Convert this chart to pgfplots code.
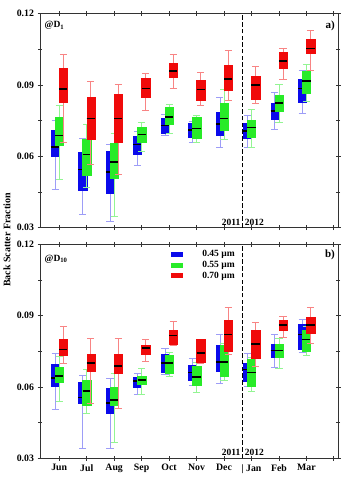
\documentclass[border=0pt]{standalone}
\usepackage{fontspec}
\setmainfont{Liberation Serif}
\usepackage{pgfplots}
\pgfplotsset{compat=1.18}
\usepgfplotslibrary{statistics}
\definecolor{cB}{RGB}{10,10,235}
\definecolor{cG}{RGB}{40,235,40}
\definecolor{cR}{RGB}{240,10,10}
\colorlet{cBL}{cB!40}
\colorlet{cGL}{cG!50}
\colorlet{cRL}{cR!50}
% #1 colour, #2 position, #3 lower whisker, #4 lower quartile, #5 median, #6 upper quartile, #7 upper whisker
\newcommand{\bp}[7]{\addplot[forget plot, draw=#1, fill=#1, line width=0.3pt,
  boxplot prepared={draw position=#2, lower whisker=#3, lower quartile=#4, median=#5, upper quartile=#6, upper whisker=#7, box extend=0.3, whisker extend=0.26},
  boxplot/every whisker/.style={draw=#1L, fill=none, line width=0.7pt},
  boxplot/every median/.style={draw=black, line width=1.6pt}] coordinates {};}
\pgfplotsset{myax/.style={scale only axis, width=298pt, height=214pt,
  boxplot/draw direction=y,
  xmin=0.3, xmax=11.15, ymin=0.03, ymax=0.12,
  xtick={1,...,11}, ytick={0.03,0.06,0.09,0.12}, minor ytick={0.045,0.075,0.105},
  tick align=center, major tick length=5pt, minor tick length=4pt,
  axis line style={line width=0.9pt, black!80},
  every tick/.style={black!80, line width=0.8pt},
  tick label style={font=\fontsize{9.8}{11}\selectfont\bfseries},
  yticklabel style={/pgf/number format/.cd, fixed, fixed zerofill, precision=2, assume math mode=true},
  scaled y ticks=false, clip=false}}
\newcommand{\lab}{\fontsize{9.5}{11}\selectfont\bfseries}
\begin{document}
\begin{tikzpicture}
\useasboundingbox (0,0) rectangle (347pt,480pt);
% ---------------- panel a ----------------
\begin{axis}[myax, at={(40pt,252.3pt)}, anchor=south west, xticklabels={}]
\bp{cB}{0.85}{0.0462}{0.0601}{0.064}{0.071}{0.0752}
\bp{cB}{1.85}{0.0357}{0.0458}{0.0545}{0.0619}{0.0675}
\bp{cB}{2.85}{0.0325}{0.0447}{0.0535}{0.0622}{0.0651}
\bp{cB}{3.85}{0.0564}{0.0611}{0.065}{0.0686}{0.0706}
\bp{cB}{4.85}{0.0688}{0.0699}{0.073}{0.0762}{0.0776}
\bp{cB}{5.85}{0.0661}{0.0679}{0.071}{0.0741}{0.0749}
\bp{cB}{6.85}{0.064}{0.0689}{0.0735}{0.0787}{0.0847}
\bp{cB}{7.85}{0.0636}{0.0675}{0.0707}{0.0741}{0.0773}
\bp{cB}{8.85}{0.0714}{0.0758}{0.0791}{0.0822}{0.0868}
\bp{cB}{9.85}{0.078}{0.0829}{0.0885}{0.0925}{0.0962}
\bp{cG}{1}{0.0503}{0.0647}{0.0688}{0.0766}{0.0814}
\bp{cG}{2}{0.0469}{0.0521}{0.0608}{0.0672}{0.0734}
\bp{cG}{3}{0.0346}{0.0507}{0.0577}{0.0657}{0.0696}
\bp{cG}{4}{0.0619}{0.0658}{0.0692}{0.0723}{0.0744}
\bp{cG}{5}{0.0696}{0.0734}{0.0766}{0.0808}{0.0818}
\bp{cG}{6}{0.0661}{0.0675}{0.0717}{0.0766}{0.0773}
\bp{cG}{7}{0.0671}{0.071}{0.0759}{0.0825}{0.0881}
\bp{cG}{8}{0.064}{0.0682}{0.0721}{0.0752}{0.0798}
\bp{cG}{9}{0.0742}{0.079}{0.0825}{0.0858}{0.0903}
\bp{cG}{10}{0.0833}{0.0864}{0.0917}{0.0958}{0.0987}
\bp{cR}{1.15}{0.0658}{0.0829}{0.0884}{0.0973}{0.1028}
\bp{cR}{2.15}{0.0566}{0.0672}{0.0759}{0.085}{0.0916}
\bp{cR}{3.15}{0.0525}{0.0661}{0.0759}{0.086}{0.0902}
\bp{cR}{4.15}{0.0793}{0.0849}{0.0886}{0.0928}{0.0948}
\bp{cR}{5.15}{0.0888}{0.0934}{0.0958}{0.0993}{0.1028}
\bp{cR}{6.15}{0.0814}{0.0836}{0.0881}{0.092}{0.0952}
\bp{cR}{7.15}{0.0836}{0.0878}{0.0926}{0.0982}{0.1046}
\bp{cR}{8.15}{0.0825}{0.0839}{0.0899}{0.0938}{0.0977}
\bp{cR}{9.15}{0.0924}{0.097}{0.100}{0.104}{0.1056}
\bp{cR}{10.15}{0.0962}{0.1032}{0.1053}{0.1091}{0.113}
\draw[line width=1.4pt, dash pattern=on 4.5pt off 2.2pt] (axis cs:7.67,0.03) -- (axis cs:7.67,0.12);
\node[anchor=west, font=\lab, inner sep=0pt] at (rel axis cs:0.015,0.945) {@D\textsubscript{1}};
\node[anchor=east, font=\fontsize{11}{12}\selectfont\bfseries, inner sep=0pt] at (rel axis cs:0.99,0.945) {a)};
\node[anchor=south east, font=\lab, inner xsep=0pt, inner ysep=1pt] at (axis cs:7.6,0.0305) {2011};
\node[anchor=south west, font=\lab, inner xsep=0pt, inner ysep=1pt] at (axis cs:7.75,0.0305) {2012};
\end{axis}
% ---------------- panel b ----------------
\begin{axis}[myax, at={(40pt,21.7pt)}, anchor=south west,
  xticklabels={Jun,Jul,Aug,Sep,Oct,Nov,Dec,| Jan,Feb,Mar,},
  legend image code/.code={\fill (0pt,-2.6pt) rectangle (12pt,2.6pt);},
  legend style={at={(axis description cs:0.43,0.99)}, anchor=north west, draw=none, fill=none,
    font=\lab, column sep=17pt, row sep=-1.2pt}]
\addlegendimage{fill=cB, draw=none}\addlegendentry{0.45 µm}
\addlegendimage{fill=cG, draw=none}\addlegendentry{0.55 µm}
\addlegendimage{fill=cR, draw=none}\addlegendentry{0.70 µm}
\bp{cB}{0.85}{0.0507}{0.0605}{0.0637}{0.0694}{0.0743}
\bp{cB}{1.85}{0.0341}{0.0532}{0.0556}{0.0619}{0.065}
\bp{cB}{2.85}{0.0341}{0.049}{0.0532}{0.0593}{0.0635}
\bp{cB}{3.85}{0.0569}{0.0601}{0.0626}{0.0642}{0.0659}
\bp{cB}{4.85}{0.0652}{0.0661}{0.0702}{0.074}{0.0761}
\bp{cB}{5.85}{0.0608}{0.063}{0.0661}{0.069}{0.0719}
\bp{cB}{6.85}{0.0615}{0.0668}{0.0705}{0.0775}{0.082}
\bp{cB}{7.85}{0.0602}{0.0626}{0.0673}{0.0701}{0.0743}
\bp{cB}{8.85}{0.0683}{0.0726}{0.0753}{0.0782}{0.082}
\bp{cB}{9.85}{0.0747}{0.0761}{0.082}{0.0865}{0.0884}
\bp{cG}{1}{0.0539}{0.0619}{0.0647}{0.0683}{0.0729}
\bp{cG}{2}{0.049}{0.0522}{0.0584}{0.063}{0.0673}
\bp{cG}{3}{0.0367}{0.0522}{0.0546}{0.0598}{0.0659}
\bp{cG}{4}{0.0571}{0.0612}{0.063}{0.0647}{0.0677}
\bp{cG}{5}{0.0645}{0.0659}{0.0701}{0.0733}{0.0745}
\bp{cG}{6}{0.0578}{0.0609}{0.0642}{0.0687}{0.0705}
\bp{cG}{7}{0.0626}{0.0647}{0.0704}{0.0774}{0.0785}
\bp{cG}{8}{0.0581}{0.0605}{0.0661}{0.0715}{0.0725}
\bp{cG}{9}{0.068}{0.0725}{0.0753}{0.0782}{0.0806}
\bp{cG}{10}{0.0732}{0.075}{0.0799}{0.0841}{0.0855}
\bp{cR}{1.15}{0.070}{0.0732}{0.0757}{0.0799}{0.0853}
\bp{cR}{2.15}{0.0529}{0.0666}{0.07}{0.0736}{0.0806}
\bp{cR}{3.15}{0.0511}{0.0659}{0.0687}{0.0739}{0.0806}
\bp{cR}{4.15}{0.0708}{0.0739}{0.0763}{0.0774}{0.0802}
\bp{cR}{5.15}{0.0774}{0.0782}{0.0816}{0.0839}{0.0874}
\bp{cR}{6.15}{0.0698}{0.0704}{0.0744}{0.0799}{0.0802}
\bp{cR}{7.15}{0.0736}{0.075}{0.082}{0.0881}{0.0933}
\bp{cR}{8.15}{0.0687}{0.0722}{0.0781}{0.0839}{0.087}
\bp{cR}{9.15}{0.081}{0.0837}{0.086}{0.0881}{0.0895}
\bp{cR}{10.15}{0.0785}{0.0825}{0.086}{0.0895}{0.0933}
\draw[line width=1.4pt, dash pattern=on 4.5pt off 2.2pt] (axis cs:7.67,0.03) -- (axis cs:7.67,0.12);
\node[anchor=west, font=\lab, inner sep=0pt] at (rel axis cs:0.015,0.93) {@D\textsubscript{10}};
\node[anchor=east, font=\fontsize{11}{12}\selectfont\bfseries, inner sep=0pt] at (rel axis cs:0.99,0.95) {b)};
\node[anchor=south east, font=\lab, inner xsep=0pt, inner ysep=1pt] at (axis cs:7.6,0.0305) {2011};
\node[anchor=south west, font=\lab, inner xsep=0pt, inner ysep=1pt] at (axis cs:7.75,0.0305) {2012};
\end{axis}
\node[rotate=90, font=\fontsize{10}{12}\selectfont\bfseries] at (7pt,240pt) {Back Scatter Fraction};
\end{tikzpicture}
\end{document}
